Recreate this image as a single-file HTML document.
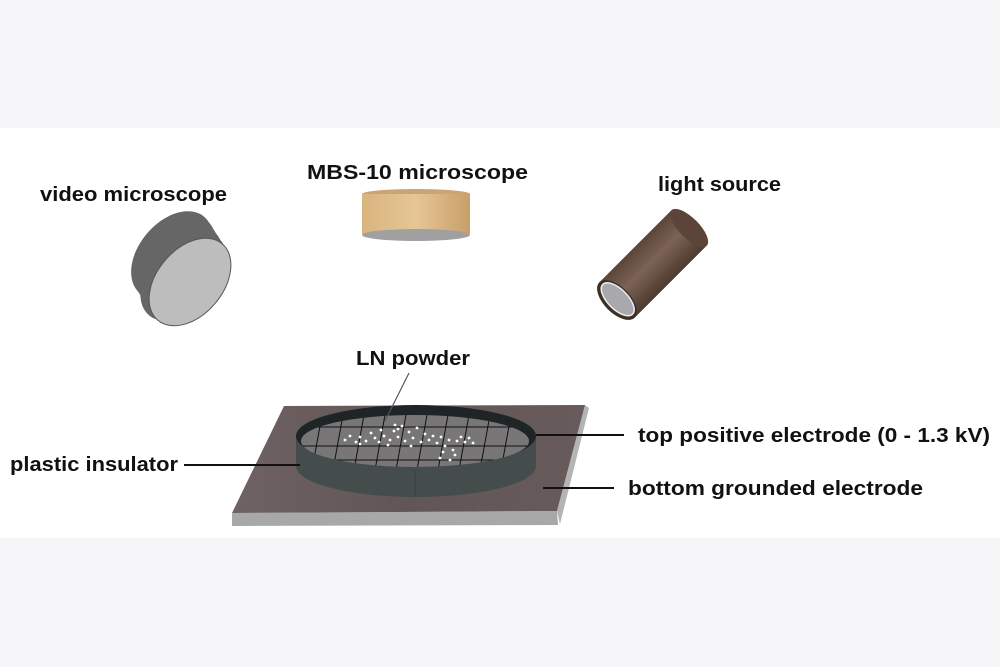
<!DOCTYPE html>
<html><head><meta charset="utf-8"><style>
html,body{margin:0;padding:0;background:#fff}
svg{display:block}
text{font-family:"Liberation Sans",sans-serif;font-weight:bold;fill:#111}
</style></head><body>
<svg width="1000" height="667" viewBox="0 0 1000 667" xmlns="http://www.w3.org/2000/svg">
<defs>
<linearGradient id="plate" x1="0" x2="1" y1="0" y2="0">
<stop offset="0" stop-color="#6f6262"/><stop offset="0.5" stop-color="#625555"/><stop offset="1" stop-color="#685b5b"/>
</linearGradient>
<linearGradient id="tan" x1="0" x2="1">
<stop offset="0" stop-color="#d9b47e"/><stop offset="0.5" stop-color="#e6c696"/><stop offset="1" stop-color="#c89f68"/>
</linearGradient>
<linearGradient id="brown" x1="0" x2="0" y1="0" y2="1">
<stop offset="0" stop-color="#5a4538"/><stop offset="0.45" stop-color="#7a6355"/><stop offset="1" stop-color="#4e3a2f"/>
</linearGradient>
<clipPath id="floor"><ellipse cx="415" cy="441" rx="114" ry="26"/></clipPath>
</defs>
<rect x="0" y="0" width="1000" height="128" fill="#f6f6f9"/>
<rect x="0" y="538" width="1000" height="129" fill="#f6f6f9"/>

<!-- video microscope -->
<g transform="translate(190,282) rotate(-50)">
<g fill="#666">
<ellipse cx="0" cy="0" rx="50" ry="33"/>
<ellipse cx="-3" cy="-5" rx="50" ry="33" transform="rotate(50) translate(-3,-4) rotate(-50)"/>
</g>
</g>
<g fill="#666">
<ellipse transform="translate(190,282) rotate(-50)" rx="50" ry="33"/>
<ellipse transform="translate(186,276) rotate(-50)" rx="50" ry="33"/>
<ellipse transform="translate(182,270) rotate(-50)" rx="50" ry="33"/>
<ellipse transform="translate(178,264) rotate(-50)" rx="50" ry="33"/>
<ellipse transform="translate(175,259) rotate(-50)" rx="50" ry="33"/>
<ellipse transform="translate(172,255) rotate(-50)" rx="50" ry="33"/>
</g>
<ellipse transform="translate(190,282) rotate(-50)" rx="50" ry="33" fill="#bdbdbd" stroke="#555" stroke-width="1"/>

<!-- MBS-10 -->
<ellipse cx="416" cy="194" rx="54" ry="5" fill="#c9a574"/>
<rect x="362" y="194" width="108" height="40" fill="url(#tan)"/>
<ellipse cx="416" cy="235" rx="54" ry="6" fill="#a0a0a0"/>

<!-- light source -->
<g transform="translate(617,300) rotate(-45)">
<rect x="0" y="-25" width="102" height="50" fill="url(#brown)"/>
<ellipse cx="102" cy="0" rx="10" ry="25" fill="#5a4538"/>
<ellipse cx="0" cy="0" rx="13" ry="25" fill="#3e2e25"/>
<ellipse cx="1" cy="0" rx="10" ry="21" fill="#a9a9ad" stroke="#eee" stroke-width="1.5"/>
</g>

<!-- plate -->
<polygon points="232,513 557,511 558,525 232,526" fill="#a8a8a8"/>
<polygon points="585,405 589,408 560,524 557,511" fill="#b4b4b4"/>
<polygon points="284,406 585,405 557,511 232,513" fill="url(#plate)"/>

<!-- ring -->
<path d="M296,436 L296,466 A120,31 0 0 0 536,466 L536,436 Z" fill="#454c4c"/>
<line x1="415" y1="470" x2="415" y2="497" stroke="#3a4040" stroke-width="1"/>
<ellipse cx="416" cy="436" rx="120" ry="31" fill="#1f2526"/>
<ellipse cx="415" cy="441" rx="114" ry="26" fill="#787676"/>
<g clip-path="url(#floor)" stroke="#111" stroke-width="1">
<line x1="300" y1="427" x2="530" y2="427"/>
<line x1="300" y1="446" x2="530" y2="446"/>
<line x1="300" y1="460" x2="530" y2="460"/>
<line x1="322" y1="415" x2="312" y2="470"/>
<line x1="343" y1="415" x2="333" y2="470"/>
<line x1="364" y1="415" x2="354" y2="470"/>
<line x1="385" y1="415" x2="375" y2="470"/>
<line x1="406" y1="415" x2="396" y2="470"/>
<line x1="427" y1="415" x2="417" y2="470"/>
<line x1="448" y1="415" x2="438" y2="470"/>
<line x1="469" y1="415" x2="459" y2="470"/>
<line x1="490" y1="415" x2="480" y2="470"/>
<line x1="511" y1="415" x2="501" y2="470"/>
</g>
<g fill="#fff">
<circle cx="345" cy="440" r="1.4"/><circle cx="350" cy="436" r="1.4"/><circle cx="356" cy="442" r="1.4"/><circle cx="360" cy="437" r="1.4"/><circle cx="366" cy="441" r="1.4"/><circle cx="371" cy="433" r="1.4"/><circle cx="375" cy="438" r="1.4"/><circle cx="381" cy="430" r="1.4"/><circle cx="384" cy="436" r="1.4"/><circle cx="390" cy="440" r="1.4"/><circle cx="394" cy="431" r="1.4"/><circle cx="398" cy="437" r="1.4"/><circle cx="402" cy="426" r="1.4"/><circle cx="405" cy="441" r="1.4"/><circle cx="409" cy="432" r="1.4"/><circle cx="413" cy="438" r="1.4"/><circle cx="417" cy="428" r="1.4"/><circle cx="421" cy="442" r="1.4"/><circle cx="425" cy="434" r="1.4"/><circle cx="429" cy="440" r="1.4"/><circle cx="433" cy="436" r="1.4"/><circle cx="437" cy="443" r="1.4"/><circle cx="441" cy="437" r="1.4"/><circle cx="445" cy="446" r="1.4"/><circle cx="449" cy="440" r="1.4"/><circle cx="453" cy="450" r="1.4"/><circle cx="457" cy="441" r="1.4"/><circle cx="461" cy="437" r="1.4"/><circle cx="465" cy="442" r="1.4"/><circle cx="469" cy="438" r="1.4"/><circle cx="473" cy="443" r="1.4"/><circle cx="455" cy="455" r="1.4"/><circle cx="360" cy="444" r="1.4"/><circle cx="388" cy="445" r="1.4"/><circle cx="411" cy="446" r="1.4"/><circle cx="398" cy="429" r="1.4"/><circle cx="379" cy="442" r="1.4"/><circle cx="443" cy="452" r="1.4"/><circle cx="440" cy="458" r="1.4"/><circle cx="450" cy="460" r="1.4"/><circle cx="395" cy="425" r="1.4"/>
</g>

<!-- leader lines -->
<g stroke="#111" stroke-width="2">
<line x1="184" y1="465" x2="300" y2="465"/>
<line x1="536" y1="435" x2="624" y2="435"/>
<line x1="543" y1="488" x2="614" y2="488"/>
</g>
<line x1="409" y1="373" x2="385" y2="421" stroke="#555" stroke-width="1.2"/>

<!-- labels -->
<text x="40" y="201" font-size="20" textLength="187" lengthAdjust="spacingAndGlyphs">video microscope</text>
<text x="307" y="179" font-size="20" textLength="221" lengthAdjust="spacingAndGlyphs">MBS-10 microscope</text>
<text x="658" y="191" font-size="20" textLength="123" lengthAdjust="spacingAndGlyphs">light source</text>
<text x="356" y="365" font-size="20" textLength="114" lengthAdjust="spacingAndGlyphs">LN powder</text>
<text x="638" y="442" font-size="20" textLength="352" lengthAdjust="spacingAndGlyphs">top positive electrode (0 - 1.3 kV)</text>
<text x="10" y="471" font-size="20" textLength="168" lengthAdjust="spacingAndGlyphs">plastic insulator</text>
<text x="628" y="495" font-size="20" textLength="295" lengthAdjust="spacingAndGlyphs">bottom grounded electrode</text>
</svg>
</body></html>
